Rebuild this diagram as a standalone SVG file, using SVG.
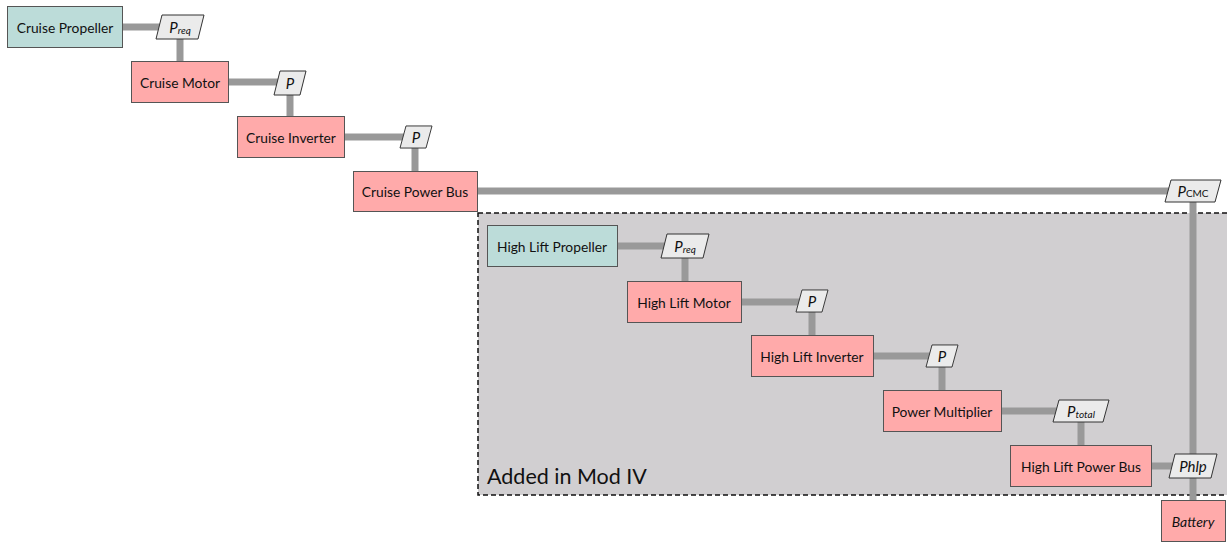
<svg xmlns="http://www.w3.org/2000/svg" width="1227" height="542" viewBox="0 0 1227 542">
  <style>
    .box { stroke: #555; stroke-width: 1; }
    .prop { fill: #bcdcd9; }
    .comp { fill: #ffaaaa; }
    .var { fill: #ebebeb; stroke: #333; stroke-width: 1; }
    .lbl { font-family: "Lato", "Liberation Sans", sans-serif; font-size: 13.8px; fill: #111; text-anchor: middle; dominant-baseline: central; }
    .it { font-style: italic; font-size: 15px; }
    .sub { font-size: 10px; }
    .wire { fill: none; stroke: #999; stroke-width: 7; }
  </style>
  <defs>
    <!-- variable tag: skewed parallelogram -->
    <path id="tag30" d="M-10,-12 H16 L10,12 H-16 Z"/>
    <path id="tag46" d="M-18,-12 H24 L18,12 H-24 Z"/>
    <path id="tag54" d="M-22,-11 H28 L22,11 H-28 Z"/>
  </defs>

  <!-- Mod IV region -->
  <rect x="478" y="213" width="760" height="282" fill="#d1cfd1" stroke="#111" stroke-width="1.5" stroke-dasharray="5,3"/>
  <text x="487" y="484" font-family="Lato, 'Liberation Sans', sans-serif" font-size="21.5" fill="#111">Added in Mod IV</text>

  <g id="connectors">
    <path class="wire" d="M123,27 H180 V61"/>
    <path class="wire" d="M229,82 H290 V116"/>
    <path class="wire" d="M345,137 H415 V171"/>
    <path class="wire" d="M478,191 H1193 V500"/>
    <path class="wire" d="M618,246 H685 V281"/>
    <path class="wire" d="M742,302 H812 V335"/>
    <path class="wire" d="M874,356 H942 V390"/>
    <path class="wire" d="M1002,411 H1081 V445"/>
    <path class="wire" d="M1152,466 H1193"/>
  </g>

  <g id="cruise-propeller">
    <rect class="box prop" x="7.5" y="6.5" width="115" height="41"/>
    <text class="lbl" x="65" y="27">Cruise Propeller</text>
  </g>
  <g id="cruise-preq">
    <use href="#tag46" class="var" transform="translate(180,27)"/>
    <text class="lbl it" x="180" y="27">P<tspan class="sub" dy="3">req</tspan></text>
  </g>
  <g id="cruise-motor">
    <rect class="box comp" x="131.5" y="61.5" width="97" height="41"/>
    <text class="lbl" x="180" y="82">Cruise Motor</text>
  </g>
  <g id="cruise-motor-p">
    <use href="#tag30" class="var" transform="translate(290,83)"/>
    <text class="lbl it" x="290" y="83">P</text>
  </g>
  <g id="cruise-inverter">
    <rect class="box comp" x="237.5" y="116.5" width="107" height="41"/>
    <text class="lbl" x="291" y="137">Cruise Inverter</text>
  </g>
  <g id="cruise-inverter-p">
    <use href="#tag30" class="var" transform="translate(416,137) scale(1,0.92)"/>
    <text class="lbl it" x="416" y="137">P</text>
  </g>
  <g id="cruise-power-bus">
    <rect class="box comp" x="353.5" y="171.5" width="124" height="40"/>
    <text class="lbl" x="415" y="191">Cruise Power Bus</text>
  </g>
  <g id="cruise-pcmc">
    <use href="#tag54" class="var" transform="translate(1193,191)"/>
    <text class="lbl" x="1193" y="191"><tspan class="it">P</tspan><tspan class="sub" dy="2">CMC</tspan></text>
  </g>

  <g id="hl-propeller">
    <rect class="box prop" x="487.5" y="225.5" width="130" height="41"/>
    <text class="lbl" x="552" y="246">High Lift Propeller</text>
  </g>
  <g id="hl-preq">
    <use href="#tag46" class="var" transform="translate(685,246)"/>
    <text class="lbl it" x="685" y="246">P<tspan class="sub" dy="3">req</tspan></text>
  </g>
  <g id="hl-motor">
    <rect class="box comp" x="627.5" y="281.5" width="114" height="41"/>
    <text class="lbl" x="684" y="302">High Lift Motor</text>
  </g>
  <g id="hl-motor-p">
    <use href="#tag30" class="var" transform="translate(812,301) scale(1,0.92)"/>
    <text class="lbl it" x="812" y="301">P</text>
  </g>
  <g id="hl-inverter">
    <rect class="box comp" x="751.5" y="335.5" width="122" height="41"/>
    <text class="lbl" x="812" y="356">High Lift Inverter</text>
  </g>
  <g id="hl-inverter-p">
    <use href="#tag30" class="var" transform="translate(942,356) scale(1,0.92)"/>
    <text class="lbl it" x="942" y="356">P</text>
  </g>
  <g id="power-multiplier">
    <rect class="box comp" x="883.5" y="390.5" width="118" height="41"/>
    <text class="lbl" x="942" y="411">Power Multiplier</text>
  </g>
  <g id="ptotal">
    <use href="#tag54" class="var" transform="translate(1081,411)"/>
    <text class="lbl it" x="1081" y="411">P<tspan class="sub" dy="3">total</tspan></text>
  </g>
  <g id="hl-power-bus">
    <rect class="box comp" x="1010.5" y="445.5" width="141" height="41"/>
    <text class="lbl" x="1081" y="466">High Lift Power Bus</text>
  </g>
  <g id="phlp">
    <use href="#tag46" class="var" transform="translate(1193,466)"/>
    <text class="lbl it" x="1193" y="466">Phlp</text>
  </g>
  <g id="battery">
    <rect class="box comp" x="1161.5" y="500.5" width="64" height="41"/>
    <text class="lbl it" x="1193" y="521" style="font-size:14px">Battery</text>
  </g>
</svg>
